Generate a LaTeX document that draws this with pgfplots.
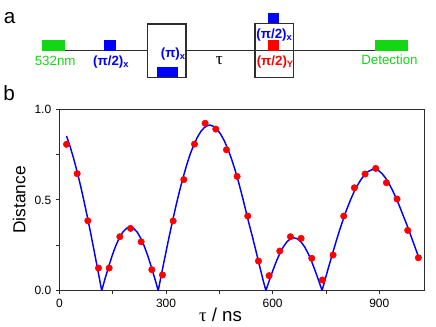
\documentclass[border=0pt]{standalone}
\usepackage{fontspec}
\setmainfont{Liberation Sans}
\newfontfamily\grk{Liberation Serif}
\usepackage{pgfplots}
\pgfplotsset{compat=1.18}
\definecolor{pgreen}{RGB}{20,215,20}
\definecolor{pblue}{RGB}{0,0,255}
\definecolor{pred}{RGB}{255,0,0}
\definecolor{frame}{RGB}{45,45,45}

\begin{document}
\begin{tikzpicture}
\useasboundingbox (0,0) rectangle (327pt,244.5pt);
% ---------- panel a: pulse sequence ----------
\begin{axis}[name=diag, at={(0pt,244.5pt)}, anchor=north west, scale only axis,
  width=327pt, height=60pt, xmin=0, xmax=436, ymin=0, ymax=80, y dir=reverse,
  axis lines=none, clip=false]
\draw[frame, line width=0.8pt] (axis cs:65,50.7) -- (axis cs:147.7,50.7) (axis cs:186,50.7) -- (axis cs:375,50.7);
\fill[pgreen] (axis cs:41.7,40) rectangle (axis cs:65,50.7);
\fill[pgreen] (axis cs:375,40) rectangle (axis cs:408.3,50.7);
\fill[pblue] (axis cs:104.3,40) rectangle (axis cs:115.7,50.7);
\fill[pblue] (axis cs:157.3,66.7) rectangle (axis cs:178.3,77.3);
\draw[frame, line width=0.9pt] (axis cs:147.7,24) rectangle (axis cs:186,77.3);
\fill[pblue] (axis cs:268.3,13.3) rectangle (axis cs:279.3,23.3);
\fill[pred] (axis cs:268.3,40) rectangle (axis cs:279.3,50.7);
\draw[frame, line width=0.9pt] (axis cs:255,23.3) rectangle (axis cs:293.3,77.3);
\node[anchor=base, font=\fontsize{15.5}{18}\selectfont] at (axis cs:9.5,23.3) {a};
\node[anchor=base, text=pgreen, font=\fontsize{10}{12}\selectfont] at (axis cs:55.2,66) {532nm};
\node[anchor=base, text=pblue, font=\bfseries\fontsize{10}{12}\selectfont] at (axis cs:111.2,66) {(π/2)\textsubscript{x}};
\node[anchor=base, text=pblue, font=\bfseries\fontsize{10}{12}\selectfont] at (axis cs:173.3,57.3) {(π)\textsubscript{x}};
\node[anchor=base, font=\grk\fontsize{13}{15}\selectfont] at (axis cs:219.3,65) {τ};
\node[anchor=base, text=pblue, font=\bfseries\fontsize{10}{12}\selectfont] at (axis cs:274.5,38.3) {(π/2)\textsubscript{x}};
\node[anchor=base, text=pred, font=\bfseries\fontsize{10}{12}\selectfont] at (axis cs:275.3,66) {(π/2)\textsubscript{Y}};
\node[anchor=base, text=pgreen, font=\fontsize{10}{12}\selectfont] at (axis cs:389.5,65) {Detection};
\end{axis}
% ---------- panel b: data ----------
\begin{axis}[at={(44.55pt,26.6pt)}, anchor=south west, scale only axis,
  width=273.5pt, height=135.9pt,
  xmin=0, xmax=1026, ymin=0, ymax=1,
  xtick={0,300,600,900}, minor xtick={150,450,750},
  ytick={0,0.5,1}, minor ytick={0.25,0.75}, yticklabels={0.0,0.5,1.0},
  tick align=outside, xtick pos=bottom, ytick pos=left,
  major tick length=2.6pt, minor tick length=2.6pt,
  axis line style={frame, line width=0.8pt},
  every tick/.style={frame, line width=0.7pt},
  tick label style={font=\fontsize{9}{10}\selectfont},
  /pgf/number format/assume math mode=true,
  xlabel={{\grk τ} / ns},
  xlabel style={at={(axis description cs:0.442,-0.135)}, anchor=center, font=\fontsize{14}{16}\selectfont},
  ylabel={Distance},
  ylabel style={at={(axis description cs:-0.11,0.5)}, anchor=center, rotate=0, font=\fontsize{13}{15}\selectfont},
  clip mode=individual]
\addplot[pblue, line width=1.1pt, line join=round, no markers] coordinates {
(20,0.853)(30,0.796)(40,0.729)(50,0.655)(60,0.574)(70,0.486)(80,0.394)(90,0.296)(100,0.196)(110,0.093)(119,0)
(129,0.069)(139,0.135)(149,0.196)(159,0.249)(169,0.292)(179,0.324)(189,0.344)(199,0.350)(209,0.343)(219,0.322)(229,0.288)(239,0.244)(249,0.190)(259,0.128)(269,0.062)(278,0)
(288,0.098)(298,0.195)(308,0.290)(318,0.381)(328,0.468)(338,0.549)(348,0.624)(358,0.692)(368,0.753)(378,0.803)(388,0.845)(398,0.878)(408,0.900)(418,0.911)(424,0.913)(434,0.906)(444,0.889)(454,0.862)(464,0.826)(474,0.781)(484,0.728)(494,0.667)(504,0.599)(514,0.524)(524,0.445)(534,0.365)(544,0.290)(554,0.210)(564,0.130)(574,0.050)(581,0)
(591,0.058)(601,0.113)(611,0.164)(621,0.208)(631,0.244)(641,0.271)(651,0.286)(660,0.291)(670,0.285)(680,0.268)(690,0.241)(700,0.204)(710,0.159)(720,0.107)(730,0.052)(739,0)
(749,0.071)(759,0.140)(769,0.208)(779,0.274)(789,0.337)(799,0.396)(809,0.451)(819,0.500)(829,0.545)(839,0.582)(849,0.614)(859,0.639)(869,0.657)(879,0.667)(888,0.670)(898,0.662)(908,0.645)(918,0.620)(928,0.588)(938,0.550)(948,0.507)(958,0.460)(968,0.410)(978,0.361)(988,0.307)(998,0.253)(1008,0.199)(1013,0.172)
};
\addplot[only marks, mark=*, mark size=2.4pt, mark options={fill=pred, draw=pred}] coordinates {
(20,0.807)(50,0.645)(80,0.385)(110,0.124)(140,0.124)(170,0.297)(200,0.343)(230,0.269)(260,0.115)(290,0.086)
(320,0.384)(350,0.612)(380,0.808)(410,0.923)(440,0.891)(470,0.777)(500,0.630)(530,0.411)(560,0.163)(590,0.082)
(620,0.218)(650,0.297)(680,0.288)(710,0.178)(740,0.058)(770,0.196)(800,0.411)(830,0.567)(860,0.643)(890,0.674)
(920,0.595)(950,0.505)(980,0.332)(1010,0.181)
};
\node[anchor=base, font=\fontsize{15.5}{18}\selectfont] at (rel axis cs:-0.138,1.0475) {b};
\end{axis}
\end{tikzpicture}
\end{document}
